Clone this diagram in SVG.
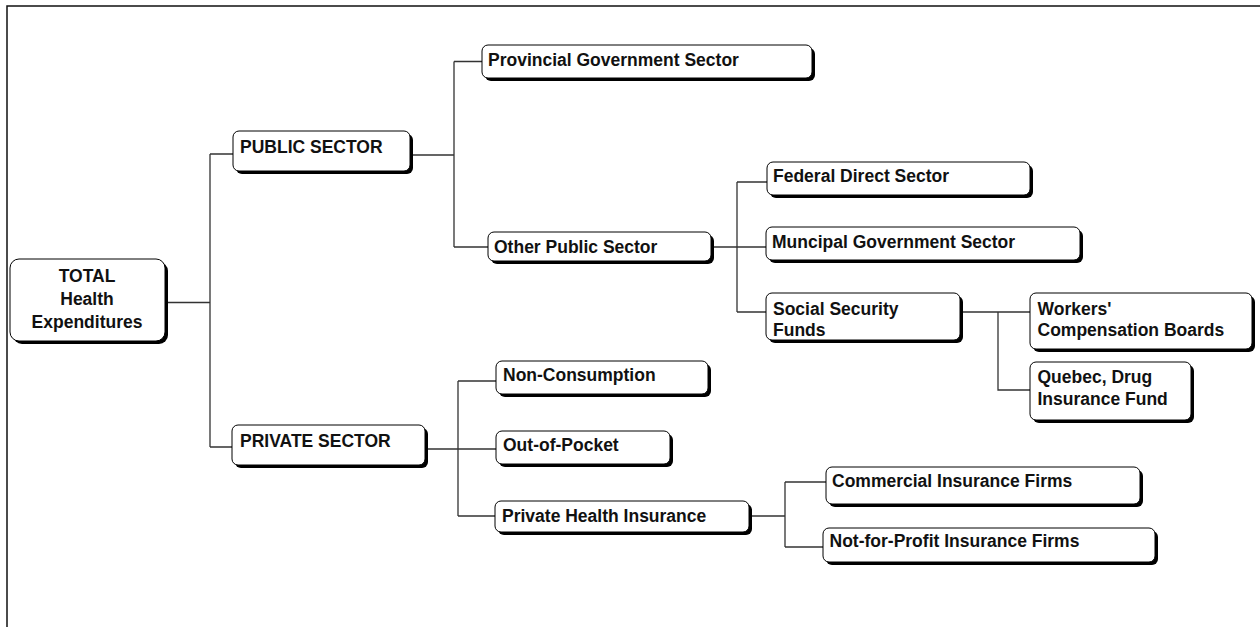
<svg xmlns="http://www.w3.org/2000/svg" width="1260" height="627" viewBox="0 0 1260 627">
<style>
.sh{fill:#000}
.bx{fill:#fff;stroke:#000;stroke-width:1}
.t{font-family:"Liberation Sans",Arial,sans-serif;font-weight:bold;font-size:17.5px;fill:#111}
.c{fill:none;stroke:#333;stroke-width:1.3}
</style>
<rect width="1260" height="627" fill="#fff"/>
<path d="M7 627 V6 H1260" fill="none" stroke="#111" stroke-width="1.5"/>
<g id="connectors">
<path class="c" d="M165 302.5 H210 M210 154 V447 M210 154 H233 M210 447 H232"/>
<path class="c" d="M410 155 H454 M454 61.5 V247 M454 61.5 H482 M454 247 H488"/>
<path class="c" d="M711 247 H766 M737 182 V312 M737 182 H767 M737 312 H766"/>
<path class="c" d="M960 312 H1030 M998 312 V390 H1030"/>
<path class="c" d="M425 449 H496 M458 381 V516 M458 381 H496 M458 516 H495"/>
<path class="c" d="M749 516 H785 M785 482 V547 M785 482 H826 M785 547 H823"/>
</g>
<g id="total">
<rect class="sh" x="13" y="262" width="155" height="82" rx="9"/>
<rect class="bx" x="10" y="259" width="155" height="82" rx="9"/>
<text class="t" text-anchor="middle" x="87" y="282">TOTAL</text>
<text class="t" text-anchor="middle" x="87" y="305">Health</text>
<text class="t" text-anchor="middle" x="87" y="328">Expenditures</text>
</g>
<g id="public">
<rect class="sh" x="236" y="134" width="177" height="40" rx="6"/>
<rect class="bx" x="233" y="131" width="177" height="40" rx="6"/>
<text class="t" x="240" y="153">PUBLIC SECTOR</text>
</g>
<g id="provincial">
<rect class="sh" x="485" y="48" width="330" height="33" rx="6"/>
<rect class="bx" x="482" y="45" width="330" height="33" rx="6"/>
<text class="t" x="488" y="66">Provincial Government Sector</text>
</g>
<g id="otherpublic">
<rect class="sh" x="491" y="235" width="223" height="29" rx="6"/>
<rect class="bx" x="488" y="232" width="223" height="29" rx="6"/>
<text class="t" x="494" y="253">Other Public Sector</text>
</g>
<g id="federal">
<rect class="sh" x="770" y="165" width="263" height="33" rx="6"/>
<rect class="bx" x="767" y="162" width="263" height="33" rx="6"/>
<text class="t" x="773" y="182">Federal Direct Sector</text>
</g>
<g id="municipal">
<rect class="sh" x="769" y="230" width="314" height="33" rx="6"/>
<rect class="bx" x="766" y="227" width="314" height="33" rx="6"/>
<text class="t" x="772" y="247.5">Muncipal Government Sector</text>
</g>
<g id="social">
<rect class="sh" x="769" y="296" width="194" height="47" rx="6"/>
<rect class="bx" x="766" y="293" width="194" height="47" rx="6"/>
<text class="t" x="773" y="315">Social Security</text>
<text class="t" x="773" y="336">Funds</text>
</g>
<g id="workers">
<rect class="sh" x="1033" y="296" width="222" height="56" rx="6"/>
<rect class="bx" x="1030" y="293" width="222" height="56" rx="6"/>
<text class="t" x="1037.5" y="315">Workers'</text>
<text class="t" x="1037.5" y="336">Compensation Boards</text>
</g>
<g id="quebec">
<rect class="sh" x="1033" y="365" width="161" height="58" rx="6"/>
<rect class="bx" x="1030" y="362" width="161" height="58" rx="6"/>
<text class="t" x="1037.5" y="383">Quebec, Drug</text>
<text class="t" x="1037.5" y="405">Insurance Fund</text>
</g>
<g id="private">
<rect class="sh" x="235" y="428" width="193" height="40" rx="6"/>
<rect class="bx" x="232" y="425" width="193" height="40" rx="6"/>
<text class="t" x="240" y="447">PRIVATE SECTOR</text>
</g>
<g id="nonconsumption">
<rect class="sh" x="499" y="364" width="212" height="33" rx="6"/>
<rect class="bx" x="496" y="361" width="212" height="33" rx="6"/>
<text class="t" x="503" y="381">Non-Consumption</text>
</g>
<g id="outofpocket">
<rect class="sh" x="499" y="434" width="174" height="33" rx="6"/>
<rect class="bx" x="496" y="431" width="174" height="33" rx="6"/>
<text class="t" x="503" y="451">Out-of-Pocket</text>
</g>
<g id="privatehealth">
<rect class="sh" x="498" y="504" width="254" height="31" rx="6"/>
<rect class="bx" x="495" y="501" width="254" height="31" rx="6"/>
<text class="t" x="502" y="521.5">Private Health Insurance</text>
</g>
<g id="commercial">
<rect class="sh" x="829" y="470" width="314" height="37" rx="6"/>
<rect class="bx" x="826" y="467" width="314" height="37" rx="6"/>
<text class="t" x="832" y="487">Commercial Insurance Firms</text>
</g>
<g id="notforprofit">
<rect class="sh" x="826" y="531" width="332" height="34" rx="6"/>
<rect class="bx" x="823" y="528" width="332" height="34" rx="6"/>
<text class="t" x="829.5" y="547">Not-for-Profit Insurance Firms</text>
</g>
</svg>
